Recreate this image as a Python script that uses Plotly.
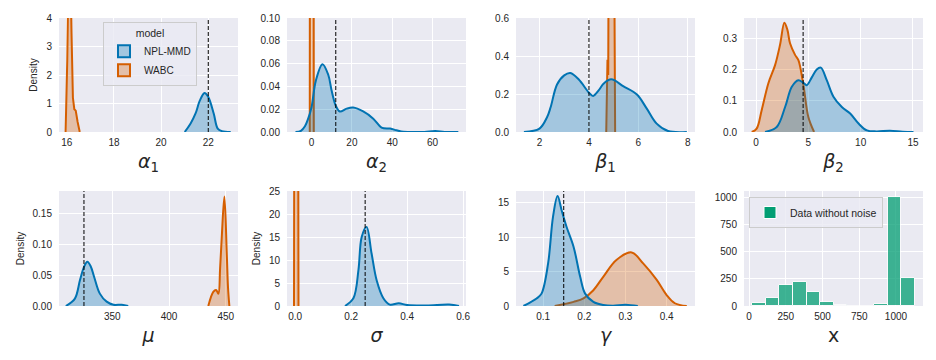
import plotly.graph_objects as go

# ---------------- data ----------------
# alpha_1
a1_npl_x = [21.0, 21.25, 21.46, 21.64, 21.84, 22.0, 22.23, 22.4, 22.58, 22.95]
a1_npl_y = [0, 0.3, 0.65, 1.1, 1.37, 1.23, 0.65, 0.12, 0.03, 0]
a1_wabc_x = [15.95, 16.02, 16.08, 16.14, 16.2, 16.26, 16.32, 16.38, 16.46, 16.55]
a1_wabc_y = [0, 2.5, 6.0, 6.5, 3.5, 1.2, 0.8, 0.75, 0.35, 0]
# alpha_2
a2_npl_x = [-8, -5.3, -3.3, -1.7, 0, 2.1, 5.4, 8.3, 9.9, 12, 14, 17.4, 20.6, 25.6, 30.6,
            34.7, 39, 42.2, 45.5, 50, 56, 61.3, 66, 72.8]
a2_npl_y = [0, 0.001, 0.005, 0.0117, 0.022, 0.045, 0.0594, 0.05, 0.0366, 0.023, 0.018,
            0.0205, 0.0214, 0.018, 0.0117, 0.0039, 0.003, 0.0015, 0.0002, 0.0001, 0.0001,
            0.0008, 0.0001, 0]
a2_wabc_x = [-0.9, -0.7, 0.1, 0.9, 1.1]
a2_wabc_y = [0, 0.8, 2.0, 0.8, 0]
# beta_1
b1_npl_x = [1.37, 2.0, 2.31, 2.45, 2.71, 3.0, 3.25, 3.59, 4.0, 4.17, 4.4, 4.6, 4.9, 5.4,
            5.94, 6.34, 6.74, 7.2, 7.96]
b1_npl_y = [0, 0.018, 0.079, 0.13, 0.25, 0.298, 0.31, 0.276, 0.207, 0.19, 0.22, 0.255,
            0.277, 0.24, 0.197, 0.123, 0.044, 0.005, 0]
b1_wabc_x = [4.70, 4.72, 4.75, 4.78, 4.81, 4.85, 4.90, 4.95, 5.0, 5.04, 5.06]
b1_wabc_y = [0, 0.15, 0.38, 0.30, 1.5, 4.0, 5.0, 4.0, 1.5, 0.3, 0]
# beta_2
b2_npl_x = [0.86, 1.98, 2.78, 3.42, 4.05, 4.5, 4.85, 5.33, 5.8, 6.19, 6.76, 7.4, 8.2, 9.0,
            9.8, 10.6, 11.5, 12.8, 14, 15.05]
b2_npl_y = [0, 0.016, 0.08, 0.145, 0.166, 0.158, 0.15, 0.175, 0.2, 0.206, 0.166, 0.113,
            0.08, 0.059, 0.027, 0.005, 0.002, 0.004, 0.001, 0]
b2_wabc_x = [-0.41, 0.06, 0.54, 1.18, 1.82, 2.3, 2.71, 3.0, 3.25, 3.73, 4.05, 4.53, 5.0, 5.55]
b2_wabc_y = [0, 0.011, 0.07, 0.156, 0.214, 0.28, 0.35, 0.327, 0.284, 0.247, 0.23, 0.15,
             0.048, 0]
# mu
mu_npl_x = [309, 317, 321.5, 325, 328, 331, 334, 339, 345, 351, 358.3, 364]
mu_npl_y = [0, 0.012, 0.042, 0.063, 0.0715, 0.064, 0.047, 0.02, 0.007, 0.002, 0.002, 0]
mu_wabc_x = [434.6, 439, 441.5, 443.5, 445, 446.5, 448.8, 450.9, 452, 453.2]
mu_wabc_y = [0, 0.023, 0.026, 0.02, 0.06, 0.112, 0.177, 0.085, 0.03, 0]
# sigma
sg_npl_x = [0.178, 0.208, 0.226, 0.2376, 0.255, 0.273, 0.291, 0.315, 0.338, 0.37, 0.40,
            0.47, 0.55, 0.585]
sg_npl_y = [0, 1.7, 7.8, 15.0, 17.2, 11.4, 5.6, 1.7, 0.3, 0.6, 0.2, 0.1, 0.3, 0]
sg_wabc_x = [-0.004, -0.002, 0.004, 0.010, 0.012]
sg_wabc_y = [0, 80, 120, 80, 0]
# gamma
gm_npl_x = [0.052, 0.084, 0.096, 0.112, 0.124, 0.135, 0.145, 0.157, 0.174, 0.19, 0.202,
            0.222, 0.246, 0.27, 0.3, 0.33]
gm_npl_y = [0, 1.1, 1.8, 6.2, 13, 16.0, 13.9, 11.5, 8.6, 4.25, 1.8, 0.6, 0.15, 0.05, 0.2, 0]
gm_wabc_x = [0.128, 0.174, 0.198, 0.222, 0.246, 0.278, 0.315, 0.343, 0.376, 0.40, 0.42, 0.449]
gm_wabc_y = [0, 0.6, 1.1, 2.3, 4.25, 6.7, 7.8, 6.2, 3.8, 1.6, 0.4, 0]
# histogram of the data without noise
hist_edges = [22.6, 114.8, 207.0, 299.2, 391.4, 483.6, 575.8, 668.0, 760.2, 852.4, 944.6,
              1036.8, 1129.0]
hist_counts = [25, 71, 190, 224, 132, 40, 12, 0, 0, 18, 1005, 262]

# true parameter values (dashed lines)
true_values = [22, 12, 4, 4.5, 325, 0.25, 0.15]

axis_titles = ["<i>α</i><sub>1</sub>", "<i>α</i><sub>2</sub>", "<i>β</i><sub>1</sub>",
               "<i>β</i><sub>2</sub>", "<i>μ</i>", "<i>σ</i>", "<i>γ</i>", "x"]
model_names = ["NPL-MMD", "WABC"]

# ---------------- styling ----------------
BLUE, ORANGE, GREEN = "#0173B2", "#D55E00", "#029E73"
FILLS = {"NPL-MMD": "rgba(1,115,178,0.3)", "WABC": "rgba(213,94,0,0.3)"}
LINES = {"NPL-MMD": BLUE, "WABC": ORANGE}
TXT = "#262626"
FONT = "Liberation Sans, Arial, sans-serif"
OFF = 8                      # the page body has an 8px margin
W, H = 936 - OFF, 360 - OFF  # figure drawn at (8, 8)

col_px = [(59, 238), (287, 466), (516, 695), (744, 923)]
row_px = [(18, 132), (191, 306)]


def fx(px):
    return (px - OFF) / W


def fy(py):
    return 1 - (py - OFF) / H


x_ranges = [[15.67, 23.26], [-12.2, 76.6], [1.05, 8.29], [-1.15, 15.96],
            [303, 460.8], [-0.029, 0.61], [0.034, 0.469], [-34, 1184]]
y_ranges = [[0, 4], [0, 0.1], [0, 0.6], [0, 0.365], [0, 0.186], [0, 25], [0, 16.74], [0, 1058]]
x_ticks = [[16, 18, 20, 22], [0, 20, 40, 60], [2, 4, 6, 8], [0, 5, 10, 15],
           [350, 400, 450], [0, 0.2, 0.4, 0.6], [0.1, 0.2, 0.3, 0.4], [0, 250, 500, 750, 1000]]
x_fmt = ["", "", "", "", "", ".1f", ".1f", ""]
y_ticks = [[0, 1, 2, 3, 4], [0, 0.02, 0.04, 0.06, 0.08, 0.1], [0, 0.2, 0.4, 0.6],
           [0, 0.1, 0.2, 0.3], [0, 0.05, 0.1, 0.15], [0, 5, 10, 15, 20, 25], [0, 5, 10, 15],
           [0, 250, 500, 750, 1000]]
y_fmt = ["", ".2f", ".1f", ".1f", ".2f", "", "", ""]
y_titles = ["Density", None, None, None, "Density", "Density", None, None]

kde_data = [
    (a1_npl_x, a1_npl_y, a1_wabc_x, a1_wabc_y),
    (a2_npl_x, a2_npl_y, a2_wabc_x, a2_wabc_y),
    (b1_npl_x, b1_npl_y, b1_wabc_x, b1_wabc_y),
    (b2_npl_x, b2_npl_y, b2_wabc_x, b2_wabc_y),
    (mu_npl_x, mu_npl_y, mu_wabc_x, mu_wabc_y),
    (sg_npl_x, sg_npl_y, sg_wabc_x, sg_wabc_y),
    (gm_npl_x, gm_npl_y, gm_wabc_x, gm_wabc_y),
]
spiky = [True, True, True, False, False, True, False]


def xref(i):
    return "x" if i == 0 else f"x{i + 1}"


def yref(i):
    return "y" if i == 0 else f"y{i + 1}"


fig = go.Figure()

for i, (nx, ny, wx, wy) in enumerate(kde_data):
    # WABC drawn first, NPL-MMD on top (seaborn layering)
    for name, xs, ys in (("WABC", wx, wy), ("NPL-MMD", nx, ny)):
        shape = "linear" if (name == "WABC" and spiky[i]) else "spline"
        fig.add_trace(go.Scatter(
            x=xs, y=ys, xaxis=xref(i), yaxis=yref(i), mode="lines", fill="tozeroy",
            fillcolor=FILLS[name], line=dict(color=LINES[name], width=2, shape=shape),
            showlegend=False, hoverinfo="skip"))

# legend entries for the model legend (box swatches like seaborn)
for name in model_names:
    fig.add_trace(go.Bar(x=[None], y=[None], xaxis="x", yaxis="y", name=name,
                         marker=dict(color=FILLS[name], line=dict(color=LINES[name], width=2)),
                         legend="legend", showlegend=True))

# histogram
centers = [(a + b) / 2 for a, b in zip(hist_edges[:-1], hist_edges[1:])]
widths = [b - a for a, b in zip(hist_edges[:-1], hist_edges[1:])]
fig.add_trace(go.Bar(x=centers, y=hist_counts, width=widths, xaxis="x8", yaxis="y8",
                     name="Data without noise", legend="legend2", showlegend=True,
                     marker=dict(color=GREEN, opacity=0.75, line=dict(color="white", width=1))))

layout = dict(
    width=W, height=H, margin=dict(l=0, r=0, t=0, b=0),
    paper_bgcolor="white", plot_bgcolor="#EAEAF2",
    font=dict(family=FONT, size=10, color=TXT),
    barmode="overlay", bargap=0,
)
shapes = []
for i in range(8):
    r, c = divmod(i, 4)
    x0, x1 = col_px[c]
    y0, y1 = row_px[r]
    xk = "xaxis" if i == 0 else f"xaxis{i + 1}"
    yk = "yaxis" if i == 0 else f"yaxis{i + 1}"
    layout[xk] = dict(
        domain=[fx(x0), fx(x1)], anchor=yref(i), type="linear",
        range=x_ranges[i], tickvals=x_ticks[i], tickformat=x_fmt[i],
        showgrid=True, gridcolor="white", gridwidth=1, zeroline=False, showline=False,
        ticks="", automargin=False, ticklabelstandoff=3,
        tickfont=dict(size=10, color=TXT, family=FONT),
        title=dict(text=axis_titles[i], standoff=7,
                   font=dict(size=19, family="DejaVu Sans", color=TXT)),
    )
    yax = dict(
        domain=[fy(y1), fy(y0)], anchor=xref(i), type="linear",
        range=y_ranges[i], tickvals=y_ticks[i], tickformat=y_fmt[i],
        showgrid=True, gridcolor="white", gridwidth=1, zeroline=False, showline=False,
        ticks="", automargin=False, ticklabelstandoff=6,
        tickfont=dict(size=10, color=TXT, family=FONT),
    )
    if y_titles[i]:
        yax["title"] = dict(text=y_titles[i], standoff=6,
                            font=dict(size=10, color=TXT, family=FONT))
    layout[yk] = yax
    if i < 7:
        shapes.append(dict(type="line", xref=xref(i), yref=yref(i) + " domain",
                           x0=true_values[i], x1=true_values[i], y0=0, y1=1, layer="above",
                           line=dict(color="black", width=1, dash="4px,2px")))
layout["shapes"] = shapes
layout["legend"] = dict(
    x=fx(103), y=fy(22), xanchor="left", yanchor="top",
    bgcolor="rgba(234,234,242,0.8)", bordercolor="#CCCCCC", borderwidth=1,
    title=dict(text="model", side="top center", font=dict(size=10.5, color=TXT)),
    font=dict(size=10, color=TXT), itemwidth=30, traceorder="normal",
)
layout["legend2"] = dict(
    x=fx(749), y=fy(197), xanchor="left", yanchor="top",
    bgcolor="rgba(234,234,242,0.8)", bordercolor="#CCCCCC", borderwidth=1,
    font=dict(size=10.5, color=TXT), itemwidth=30,
)
fig.update_layout(**layout)

fig.write_html("out.html")
